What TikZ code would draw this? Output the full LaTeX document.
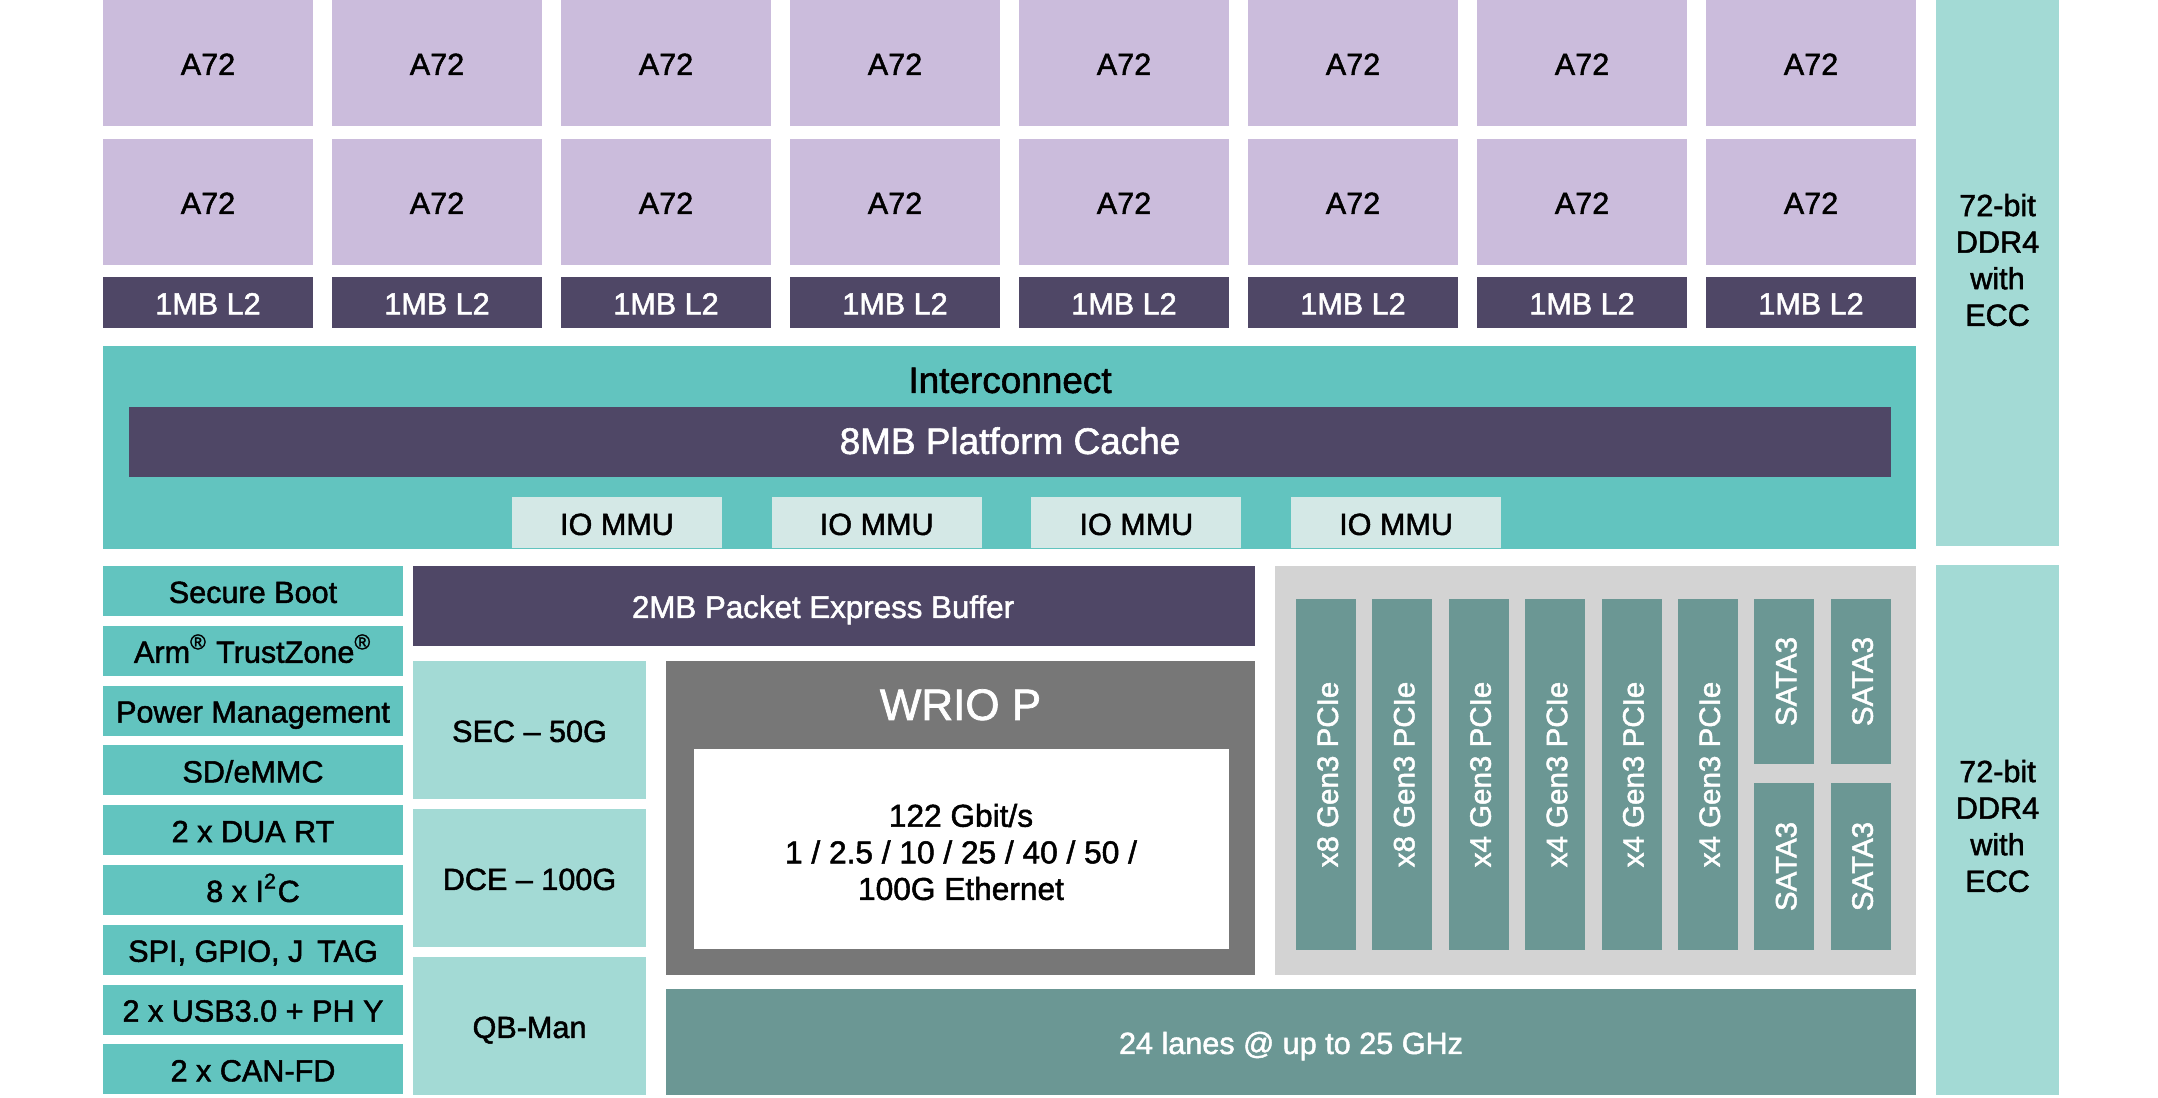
\documentclass[tikz,border=0pt]{standalone}
\usepackage{fontspec}
\setmainfont{Liberation Sans}[FakeBold=1.6]
\usetikzlibrary{positioning}
\definecolor{Lilac}{HTML}{CBBCDC}
\definecolor{Slate}{HTML}{4F4766}
\definecolor{Teal}{HTML}{62C4BF}
\definecolor{Mint}{HTML}{A3DAD5}
\definecolor{Frost}{HTML}{D4E8E6}
\definecolor{Sage}{HTML}{6B9794}
\definecolor{Ash}{HTML}{D3D3D3}
\definecolor{Graphite}{HTML}{777777}

\begin{document}
\begin{tikzpicture}[x=0.01cm,y=-0.01cm,
    blk/.style 2 args={inner sep=0pt,outer sep=0pt,align=center,
      minimum width=#1*0.01cm,minimum height=#2*0.01cm},
    txt/.style={font=\fontsize{8.7}{10.4}\selectfont},
    one/.style={text height=6.8pt,text depth=0pt},
    big/.style={font=\fontsize{10.5}{12}\selectfont},
    lane/.style={fill=Sage,text=white,rotate=90,one,font=\fontsize{8.4}{10}\selectfont}]
    \useasboundingbox (0,0) rectangle (2158,1098);
    % cores, two rows, L2 below each pair
    \foreach \i in {0,...,7}{
      \node[blk={210}{126},fill=Lilac,txt,one] (coreA\i) at (208+229*\i,63) {A72};
      \node[blk={210}{126},fill=Lilac,txt,one] (coreB\i) at (208+229*\i,202) {A72};
      \node[blk={210}{51},fill=Slate,text=white,txt,one] (ltwo\i) at (208+229*\i,302.5) {1MB L2};
    }
    % interconnect
    \node[blk={1813}{203},fill=Teal] (inter) at (1009.5,447.5) {};
    \node[big,one] (interlbl) at (1010,381) {Interconnect};
    \node[blk={1762}{70},fill=Slate,text=white,big,one] (cache) at (1010,442) {8MB Platform Cache};
    \foreach \i in {0,...,3}
      \node[blk={210}{51},fill=Frost,txt,one] (iommu\i) at (617+259.7*\i,523) {IO MMU};
    % memory
    \node[blk={123}{546},fill=Mint] (ddrA) at (1997.5,273) {};
    \node[blk={123}{530},fill=Mint] (ddrB) at (1997.5,830) {};
    \node[txt,align=center] (ddrAlbl) at (1997.5,260) {72-bit\\DDR4\\with\\ECC};
    \node[txt,align=center] (ddrBlbl) at (1997.5,826) {72-bit\\DDR4\\with\\ECC};
    % peripherals
    \foreach \lbl [count=\j from 0] in {Secure Boot,Arm\textsuperscript{®} TrustZone\textsuperscript{®},Power Management,SD/eMMC,2 x DUA RT,8 x I\textsuperscript{2}C,{SPI, GPIO, J\hspace{.45em}TAG},2 x USB3.0 + PH Y,2 x CAN-FD}
      \node[blk={300}{50},fill=Teal,txt,one] (per\j) at (253,591+59.8*\j) {\lbl};
    % accelerators
    \node[blk={842}{80},fill=Slate] (pbuf) at (834,606) {};
    \node[text=white,one,font=\fontsize{8.9}{10.4}\selectfont] (pbuflbl) at (823,606) {2MB Packet Express Buffer};
    \foreach \lbl/\yy [count=\j] in {SEC -- 50G/730,DCE -- 100G/878,QB-Man/1026}
      \node[blk={233}{138},fill=Mint,txt,one] (acc\j) at (529.5,\yy) {\lbl};
    \node[blk={589}{314},fill=Graphite] (wriop) at (960.5,818) {};
    \node[text=white,one,font=\fontsize{12.5}{14}\selectfont] (wriolbl) at (960.5,708) {WRIO P};
    \node[blk={535}{200},fill=white] (eth) at (961,849) {};
    \node[align=center,font=\fontsize{9}{10.4}\selectfont] (ethtxt) at (961,852) {122 Gbit/s\\1 / 2.5 / 10 / 25 / 40 / 50 /\\100G Ethernet};
    \node[blk={1250}{106},fill=Sage,text=white,txt,one] (serdes) at (1291,1042) {24 lanes @ up to 25 GHz};
    % high speed io
    \node[blk={641}{409},fill=Ash] (hsio) at (1595.5,770.5) {};
    \foreach \lbl [count=\k from 0] in {x8,x8,x4,x4,x4,x4}
      \node[blk={351}{60},lane] (pcie\k) at (1326+76.4*\k,774.5) {\lbl{} Gen3 PCIe};
    \foreach \k in {6,7}{
      \node[blk={165}{60},lane] (sataA\k) at (1326+76.4*\k,681.5) {SATA3};
      \node[blk={167}{60},lane] (sataB\k) at (1326+76.4*\k,866.5) {SATA3};
    }
\end{tikzpicture}
\end{document}
